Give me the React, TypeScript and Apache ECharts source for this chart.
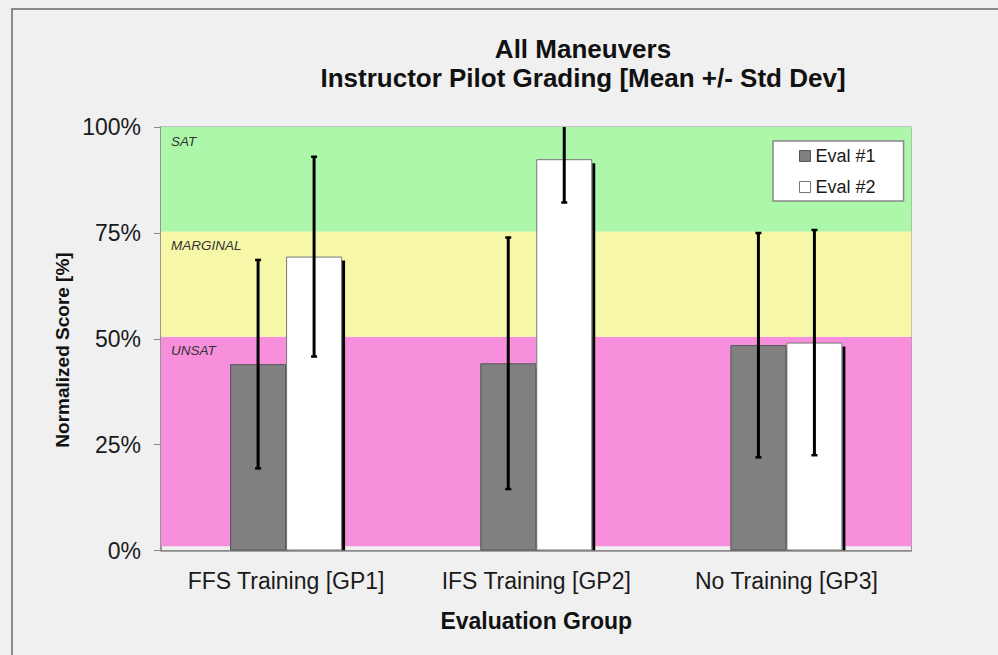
import React, { useEffect, useRef } from 'react';
import * as echarts from 'echarts';

const categories = ['FFS Training [GP1]', 'IFS Training [GP2]', 'No Training [GP3]'];
const seriesNames = ['Eval #1', 'Eval #2'];
const eval1Mean = [44.0, 44.2, 48.5];
const eval1Sd = [24.6, 29.7, 26.5];
const eval2Mean = [69.4, 92.4, 49.1];
const eval2Sd = [23.6, 10.2, 26.6];
const bandNames = ['UNSAT', 'MARGINAL', 'SAT'];
const bandLow = [1, 50.5, 75.3];
const bandHigh = [50.5, 75.3, 100];
const bandColors = ['#f78fdc', '#f7f7a8', '#acf7a9'];

const FONT = 'Liberation Sans, Arial, sans-serif';
const BAR_WIDTH = 56;

function errorSeries(name: string, means: number[], sds: number[], idx: number) {
  const offset = (idx - 0.5) * BAR_WIDTH;
  return {
    type: 'custom',
    name: name + ' SD',
    z: 5,
    clip: true,
    silent: true,
    data: means.map((m, i) => [i, m - sds[i], m + sds[i]]),
    encode: { x: 0, y: [1, 2] },
    renderItem: (params: any, api: any) => {
      const i = api.value(0);
      const lo = api.coord([i, api.value(1)]);
      const hi = api.coord([i, api.value(2)]);
      const x = lo[0] + offset;
      return {
        type: 'group',
        children: [
          { type: 'line', shape: { x1: x, y1: lo[1], x2: x, y2: hi[1] }, style: { stroke: '#000', lineWidth: 3 } },
          { type: 'line', shape: { x1: x - 3, y1: lo[1], x2: x + 3, y2: lo[1] }, style: { stroke: '#000', lineWidth: 2.5 } },
          { type: 'line', shape: { x1: x - 3, y1: hi[1], x2: x + 3, y2: hi[1] }, style: { stroke: '#000', lineWidth: 2.5 } },
        ],
      };
    },
  };
}

function shadowSeries(name: string, means: number[], idx: number) {
  return {
    type: 'custom',
    name: name + ' shadow',
    z: 2,
    clip: true,
    silent: true,
    data: means.map((m, i) => [i, m]),
    encode: { x: 0, y: 1 },
    renderItem: (params: any, api: any) => {
      const i = api.value(0);
      const top = api.coord([i, api.value(1)]);
      const base = api.coord([i, 0]);
      const right = top[0] + idx * BAR_WIDTH;
      return {
        type: 'rect',
        shape: { x: right, y: top[1] + 4, width: 3, height: base[1] - top[1] - 4 },
        style: { fill: '#000' },
      };
    },
  };
}

export default function App() {
  const ref = useRef<HTMLDivElement>(null);
  useEffect(() => {
    if (!ref.current) return;
    const chart = echarts.init(ref.current, undefined, { renderer: 'svg' });
    const option: any = {
      animation: false,
      backgroundColor: '#f0f0f0',
      textStyle: { fontFamily: FONT },
      title: {
        text: 'All Maneuvers\nInstructor Pilot Grading [Mean +/- Std Dev]',
        left: 578,
        top: 29,
        textAlign: 'center',
        textStyle: { fontSize: 26, fontWeight: 'bold', color: '#111', lineHeight: 29, fontFamily: FONT },
      },
      legend: {
        left: 773,
        top: 141,
        orient: 'vertical',
        backgroundColor: '#fff',
        borderColor: '#888',
        borderWidth: 1.5,
        padding: [6, 28, 5, 26],
        itemGap: 13,
        itemWidth: 11,
        itemHeight: 11,
        icon: 'rect',
        textStyle: { fontSize: 18, color: '#1a1a1a', fontFamily: FONT },
        data: [
          { name: seriesNames[0], itemStyle: { color: '#808080', borderColor: '#555', borderWidth: 1 } },
          { name: seriesNames[1], itemStyle: { color: '#fff', borderColor: '#777', borderWidth: 1 } },
        ],
      },
      grid: {
        left: 161,
        top: 127,
        width: 750.5,
        height: 423.5,
        show: true,
        borderColor: '#999',
        borderWidth: 1,
        backgroundColor: 'transparent',
      },
      xAxis: {
        type: 'category',
        data: categories,
        axisLine: { lineStyle: { color: '#888', width: 1.5 } },
        axisTick: { length: 7, lineStyle: { color: '#888' } },
        axisLabel: { interval: 0, fontSize: 23, color: '#1a1a1a', margin: 19, fontFamily: FONT },
        name: 'Evaluation Group',
        nameLocation: 'middle',
        nameGap: 59,
        nameTextStyle: { fontSize: 23, fontWeight: 'bold', color: '#111', fontFamily: FONT },
      },
      yAxis: {
        type: 'value',
        min: 0,
        max: 100,
        interval: 25,
        axisLine: { show: true, lineStyle: { color: '#888', width: 1.5 } },
        axisTick: { show: true, length: 7, lineStyle: { color: '#888' } },
        axisLabel: { formatter: '{value}%', fontSize: 23, color: '#1a1a1a', margin: 20, fontFamily: FONT },
        splitLine: { show: false },
      },
      graphic: [
        {
          type: 'rect',
          shape: { x: 12, y: 9, width: 1100, height: 800 },
          style: { fill: 'none', stroke: '#8a8a8a', lineWidth: 2 },
          silent: true,
        },
        {
          type: 'text',
          x: 62,
          y: 350,
          rotation: Math.PI / 2,
          style: {
            text: 'Normalized Score [%]',
            fontSize: 19,
            fontWeight: 'bold',
            fill: '#111',
            fontFamily: FONT,
            align: 'center',
            verticalAlign: 'middle',
          },
        },
      ],
      series: [
        {
          type: 'line',
          name: 'bands',
          data: [],
          z: 1,
          silent: true,
          markArea: {
            silent: true,
            data: bandNames.map((n, i) => [
              {
                name: n,
                yAxis: bandLow[i],
                itemStyle: { color: bandColors[i], opacity: 1 },
              },
              { yAxis: bandHigh[i] },
            ]),
            label: {
              show: true,
              position: [10, 7],
              fontSize: 13.5,
              fontStyle: 'italic',
              color: '#333',
              fontFamily: FONT,
            },
          },
        },
        shadowSeries(seriesNames[0], eval1Mean, 0),
        shadowSeries(seriesNames[1], eval2Mean, 1),
        {
          type: 'bar',
          name: seriesNames[0],
          data: eval1Mean,
          barWidth: BAR_WIDTH,
          barGap: '0%',
          z: 2,
          itemStyle: { color: '#808080', borderColor: '#555', borderWidth: 1 },
        },
        {
          type: 'bar',
          name: seriesNames[1],
          data: eval2Mean,
          barWidth: BAR_WIDTH,
          barGap: '0%',
          z: 2,
          itemStyle: { color: '#fff', borderColor: '#777', borderWidth: 1 },
        },
        errorSeries(seriesNames[0], eval1Mean, eval1Sd, 0),
        errorSeries(seriesNames[1], eval2Mean, eval2Sd, 1),
      ],
    };
    chart.setOption(option);
    return () => chart.dispose();
  }, []);
  return <div ref={ref} style={{ position: 'absolute', left: 0, top: 0, width: 998, height: 655 }} />;
}
